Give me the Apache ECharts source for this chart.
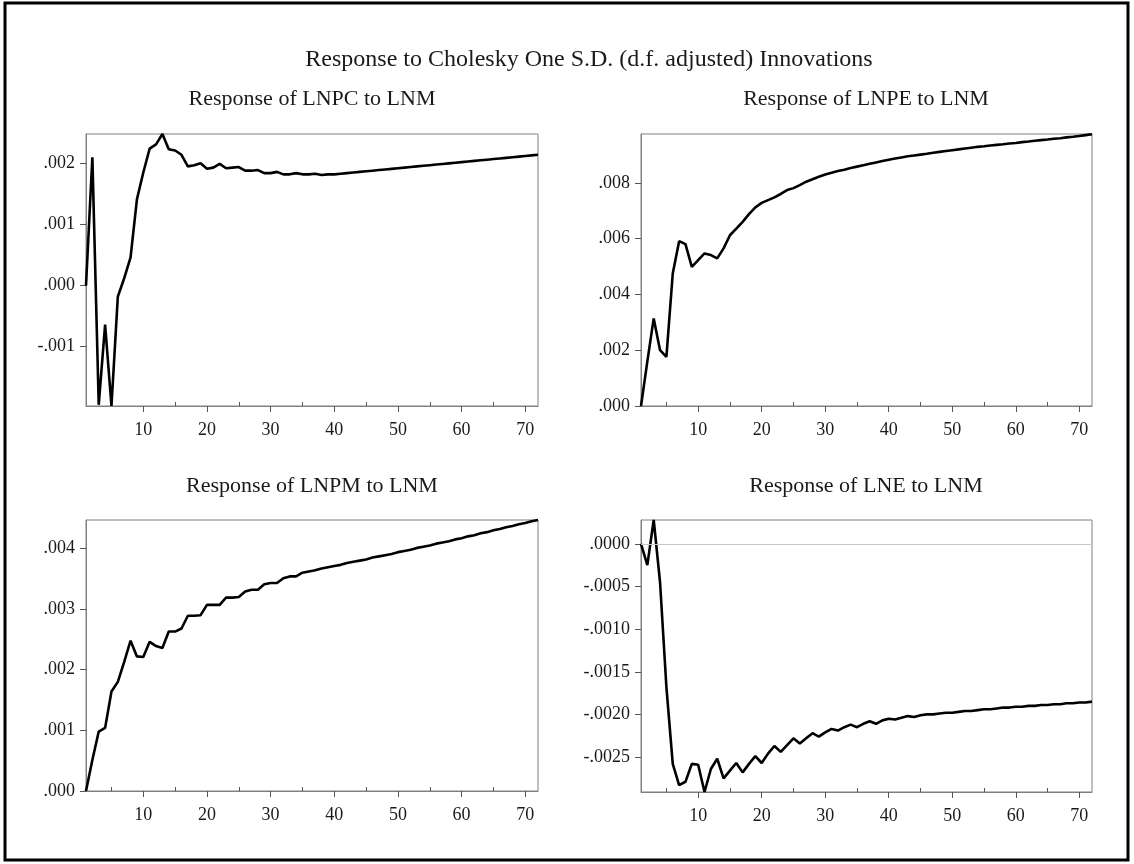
<!DOCTYPE html>
<html>
<head>
<meta charset="utf-8">
<script src="https://cdn.jsdelivr.net/npm/echarts@6/dist/echarts.min.js"></script>
<style>
  html, body { margin: 0; padding: 0; background: #fff; }
  #chart { width: 1134px; height: 864px; }
</style>
</head>
<body>
<div id="chart"></div>
<script>
// Responses to LNM shock, horizons 1..72
const lnpc = [
  0, 0.00210, -0.00195, -0.00064, -0.00197, -0.00018, 0.00012, 0.00046, 0.00141, 0.00185,
  0.00224, 0.00231, 0.00248, 0.00223, 0.00221, 0.00214, 0.00195, 0.00197, 0.00200, 0.00191,
  0.00193, 0.00199, 0.00192, 0.00193, 0.00194, 0.00188, 0.00188, 0.00189, 0.00184, 0.00184,
  0.00186, 0.00182, 0.00182, 0.00184, 0.00182, 0.00182, 0.00183, 0.00181, 0.00182, 0.00182,
  0.00183, 0.00184, 0.00185, 0.00186, 0.00187, 0.00188, 0.00189, 0.00190, 0.00191, 0.00192,
  0.00193, 0.00194, 0.00195, 0.00196, 0.00197, 0.00198, 0.00199, 0.00200, 0.00201, 0.00202,
  0.00203, 0.00204, 0.00205, 0.00206, 0.00207, 0.00208, 0.00209, 0.00210, 0.00211, 0.00212,
  0.00213, 0.00214
];
const lnpe = [
  0, 0.00160, 0.00314, 0.00200, 0.00176, 0.00475, 0.00591, 0.00580, 0.00499, 0.00523,
  0.00547, 0.00541, 0.00529, 0.00565, 0.00612, 0.00636, 0.00660, 0.00688, 0.00712, 0.00728,
  0.00738, 0.00748, 0.00760, 0.00774, 0.00781, 0.00792, 0.00804, 0.00813, 0.00822, 0.00830,
  0.00836, 0.00842, 0.00847, 0.00853, 0.00858, 0.00863, 0.00868, 0.00873, 0.00878, 0.00883,
  0.00887, 0.00891, 0.00895, 0.00898, 0.00901, 0.00904, 0.00908, 0.00911, 0.00914, 0.00917,
  0.00920, 0.00923, 0.00926, 0.00929, 0.00931, 0.00934, 0.00936, 0.00938, 0.00941, 0.00943,
  0.00946, 0.00948, 0.00951, 0.00953, 0.00955, 0.00958, 0.00960, 0.00963, 0.00965, 0.00968,
  0.00971, 0.00974
];
const lnpm = [
  0, 0.00051, 0.00098, 0.00104, 0.00164, 0.00180, 0.00213, 0.00248, 0.00222, 0.00221,
  0.00246, 0.00239, 0.00236, 0.00263, 0.00263, 0.00268, 0.00289, 0.00289, 0.00290, 0.00307,
  0.00307, 0.00307, 0.00319, 0.00319, 0.00320, 0.00329, 0.00332, 0.00332, 0.00341, 0.00343,
  0.00343, 0.00351, 0.00354, 0.00354, 0.00360, 0.00362, 0.00364, 0.00367, 0.00369, 0.00371,
  0.00373, 0.00376, 0.00378, 0.00380, 0.00382, 0.00385, 0.00387, 0.00389, 0.00391, 0.00394,
  0.00396, 0.00398, 0.00401, 0.00403, 0.00405, 0.00408, 0.00410, 0.00412, 0.00415, 0.00417,
  0.00420, 0.00422, 0.00425, 0.00427, 0.00430, 0.00432, 0.00435, 0.00437, 0.00440, 0.00442,
  0.00445, 0.00447
];
const lne = [
  0, -0.00025, 0.00028, -0.00045, -0.00168, -0.00258, -0.00283, -0.00279, -0.00258, -0.00259,
  -0.00291, -0.00264, -0.00252, -0.00275, -0.00266, -0.00257, -0.00268, -0.00258, -0.00249, -0.00257,
  -0.00246, -0.00237, -0.00244, -0.00236, -0.00228, -0.00234, -0.00228, -0.00222, -0.00226, -0.00221,
  -0.00217, -0.00219, -0.00215, -0.00212, -0.00215, -0.00211, -0.00208, -0.00211, -0.00207, -0.00205,
  -0.00206, -0.00204, -0.00202, -0.00203, -0.00201, -0.00200, -0.00200, -0.00199, -0.00198, -0.00198,
  -0.00197, -0.00196, -0.00196, -0.00195, -0.00194, -0.00194, -0.00193, -0.00192, -0.00192, -0.00191,
  -0.00191, -0.00190, -0.00190, -0.00189, -0.00189, -0.00188, -0.00188, -0.00187, -0.00187, -0.00186,
  -0.00186, -0.00185
];

const mainTitle = 'Response to Cholesky One S.D. (d.f. adjusted) Innovations';
const panelTitles = ['Response of LNPC to LNM', 'Response of LNPE to LNM', 'Response of LNPM to LNM', 'Response of LNE to LNM'];

const xMajor = [10, 20, 30, 40, 50, 60, 70];
const xMinor = [5, 15, 25, 35, 45, 55, 65];
const yTicks = [
  [-0.001, 0, 0.001, 0.002],
  [0, 0.002, 0.004, 0.006, 0.008],
  [0, 0.001, 0.002, 0.003, 0.004],
  [-0.0025, -0.0020, -0.0015, -0.0010, -0.0005, 0]
];
const yDecimals = [3, 3, 3, 4];
const yRange = [[-0.00197, 0.00248], [0, 0.00975], [0, 0.00447], [-0.00291, 0.00028]];

const chart = echarts.init(document.getElementById('chart'));
const font = "'Liberation Serif', 'Times New Roman', serif";
const frameColor = '#808080';

// grid boxes in pixels
const boxes = [
  { left: 86, top: 134, width: 452, height: 272 },
  { left: 641, top: 134, width: 451, height: 272 },
  { left: 86, top: 520, width: 452, height: 271 },
  { left: 641, top: 520, width: 451, height: 272 }
];

function fmt(dec) {
  return function (v) {
    return v.toFixed(dec).replace(/^(-?)0\./, '$1.');
  };
}

const grids = [], xAxes = [], yAxes = [], series = [];
const allData = [lnpc, lnpe, lnpm, lne];

boxes.forEach((b, i) => {
  grids.push(Object.assign({ show: true, borderColor: frameColor, borderWidth: 1, backgroundColor: 'transparent' }, b));
  xAxes.push({
    gridIndex: i, type: 'value', min: 1, max: 72, position: 'bottom',
    axisLine: { show: true, onZero: false, lineStyle: { color: frameColor, width: 1 } },
    axisTick: { show: true, inside: false, length: 6, customValues: xMajor, lineStyle: { color: '#555' } },
    axisLabel: { customValues: xMajor, fontFamily: font, fontSize: 18, color: '#1a1a1a', margin: 15 },
    splitLine: { show: false }
  });
  // minor inside ticks at the fives
  xAxes.push({
    gridIndex: i, type: 'value', min: 1, max: 72, position: 'bottom', offset: 0,
    axisLine: { show: false, onZero: false },
    axisTick: { show: true, inside: true, length: 4, customValues: xMinor, lineStyle: { color: '#555' } },
    axisLabel: { show: false },
    splitLine: { show: false }
  });
  yAxes.push({
    gridIndex: i, type: 'value', min: yRange[i][0], max: yRange[i][1],
    axisLine: { show: true, onZero: false, lineStyle: { color: frameColor, width: 1 } },
    axisTick: { show: true, inside: false, length: 6, customValues: yTicks[i], lineStyle: { color: '#555' } },
    axisLabel: { customValues: yTicks[i], formatter: fmt(yDecimals[i]), fontFamily: font, fontSize: 18, color: '#1a1a1a', margin: 11 },
    splitLine: { show: false }
  });
  const s = {
    type: 'line', xAxisIndex: i * 2, yAxisIndex: i,
    data: allData[i].map((v, k) => [k + 1, v]),
    showSymbol: false, clip: false,
    lineStyle: { color: '#000', width: 2.6 },
    animation: false
  };
  if (i === 3) {
    s.markLine = {
      silent: true, symbol: ['none', 'none'], label: { show: false },
      lineStyle: { color: '#c8c8c8', type: 'solid', width: 1 },
      data: [{ yAxis: 0 }]
    };
  }
  series.push(s);
});

const graphics = [
  { type: 'rect', shape: { x: 5, y: 3, width: 1123, height: 857 }, style: { fill: 'none', stroke: '#000', lineWidth: 3 } },
  { type: 'text', x: 589, y: 60, style: { text: mainTitle, font: '24px ' + font, fill: '#1a1a1a', textAlign: 'center', textVerticalAlign: 'middle' } }
];
const titlePos = [[312, 99], [866, 99], [312, 486], [866, 486]];
panelTitles.forEach((t, i) => {
  graphics.push({ type: 'text', x: titlePos[i][0], y: titlePos[i][1], style: { text: t, font: '22px ' + font, fill: '#1a1a1a', textAlign: 'center', textVerticalAlign: 'middle' } });
});

chart.setOption({
  backgroundColor: '#fff',
  animation: false,
  grid: grids,
  xAxis: xAxes,
  yAxis: yAxes,
  series: series,
  graphic: graphics
});
</script>
</body>
</html>
